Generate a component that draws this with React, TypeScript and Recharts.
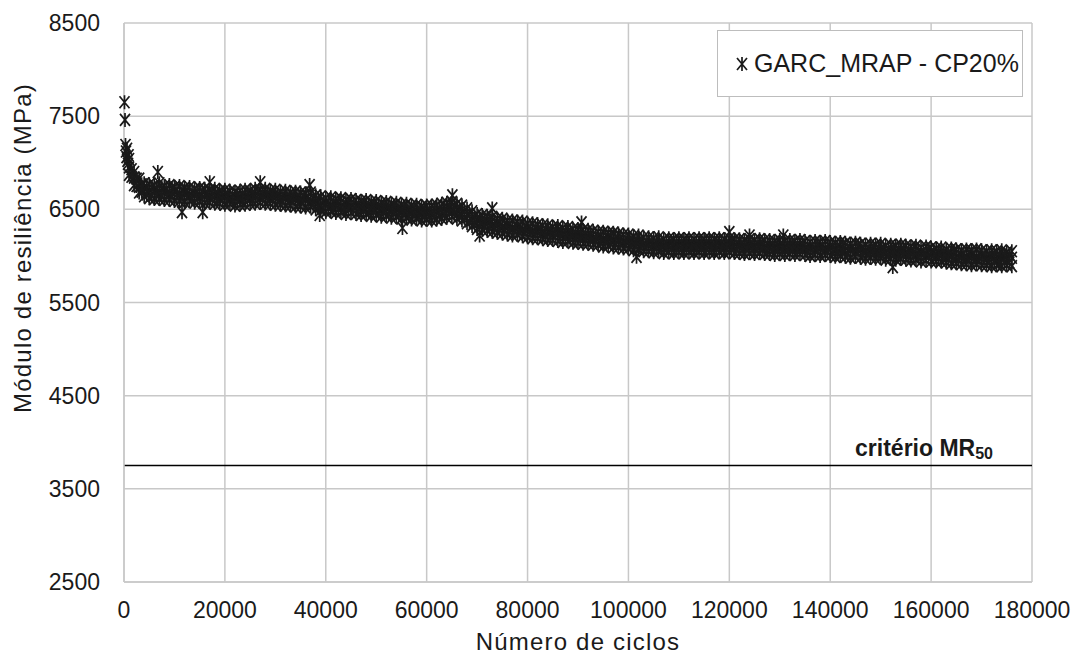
import React from "react";
import {
  ScatterChart,
  Scatter,
  XAxis,
  YAxis,
  CartesianGrid,
  ReferenceLine,
  Label,
} from "recharts";

const FONT = "'Liberation Sans', Arial, sans-serif";
const INK = "#1a1a1a";
const GRID = "#c8c8c8";

const xTicks = [0, 20000, 40000, 60000, 80000, 100000, 120000, 140000, 160000, 180000];
const yTicks = [2500, 3500, 4500, 5500, 6500, 7500, 8500];
const mr50 = 3750;
const seriesName = "GARC_MRAP - CP20%";

// first readings, before the band settles
const firstCycles = [100, 200, 300, 400, 500, 600, 700, 800, 900];
const firstValues = [7650, 7460, 7190, 7120, 7060, 7150, 7020, 6990, 7080];

// cycles sampled along the band (every 1000)
const bandCycles = [
  1000, 2000, 3000, 4000, 5000, 6000, 7000, 8000, 9000, 10000,
  11000, 12000, 13000, 14000, 15000, 16000, 17000, 18000, 19000, 20000,
  21000, 22000, 23000, 24000, 25000, 26000, 27000, 28000, 29000, 30000,
  31000, 32000, 33000, 34000, 35000, 36000, 37000, 38000, 39000, 40000,
  41000, 42000, 43000, 44000, 45000, 46000, 47000, 48000, 49000, 50000,
  51000, 52000, 53000, 54000, 55000, 56000, 57000, 58000, 59000, 60000,
  61000, 62000, 63000, 64000, 65000, 66000, 67000, 68000, 69000, 70000,
  71000, 72000, 73000, 74000, 75000, 76000, 77000, 78000, 79000, 80000,
  81000, 82000, 83000, 84000, 85000, 86000, 87000, 88000, 89000, 90000,
  91000, 92000, 93000, 94000, 95000, 96000, 97000, 98000, 99000, 100000,
  101000, 102000, 103000, 104000, 105000, 106000, 107000, 108000, 109000, 110000,
  111000, 112000, 113000, 114000, 115000, 116000, 117000, 118000, 119000, 120000,
  121000, 122000, 123000, 124000, 125000, 126000, 127000, 128000, 129000, 130000,
  131000, 132000, 133000, 134000, 135000, 136000, 137000, 138000, 139000, 140000,
  141000, 142000, 143000, 144000, 145000, 146000, 147000, 148000, 149000, 150000,
  151000, 152000, 153000, 154000, 155000, 156000, 157000, 158000, 159000, 160000,
  161000, 162000, 163000, 164000, 165000, 166000, 167000, 168000, 169000, 170000,
  171000, 172000, 173000, 174000, 175000, 176000,
];

// upper edge of the band
const bandUpper = [
  7040, 6900, 6830, 6780, 6770, 6760, 6780, 6750, 6760, 6740,
  6750, 6730, 6740, 6720, 6730, 6720, 6710, 6720, 6700, 6710,
  6700, 6690, 6700, 6710, 6700, 6720, 6710, 6720, 6700, 6710,
  6690, 6700, 6680, 6690, 6680, 6670, 6680, 6650, 6640, 6620,
  6630, 6610, 6620, 6600, 6610, 6600, 6590, 6600, 6580, 6590,
  6570, 6580, 6560, 6570, 6550, 6560, 6540, 6550, 6530, 6540,
  6540, 6550, 6560, 6570, 6580, 6560, 6540, 6510, 6480, 6450,
  6440, 6430, 6420, 6400, 6400, 6380, 6380, 6370, 6370, 6350,
  6350, 6340, 6330, 6330, 6310, 6320, 6300, 6310, 6290, 6290,
  6280, 6280, 6270, 6260, 6260, 6250, 6250, 6240, 6230, 6230,
  6210, 6220, 6200, 6200, 6190, 6200, 6180, 6190, 6180, 6190,
  6180, 6190, 6180, 6190, 6180, 6190, 6180, 6190, 6180, 6190,
  6180, 6180, 6170, 6180, 6170, 6180, 6170, 6170, 6160, 6170,
  6160, 6170, 6160, 6170, 6160, 6150, 6160, 6150, 6160, 6150,
  6140, 6150, 6140, 6130, 6140, 6130, 6120, 6130, 6120, 6130,
  6110, 6120, 6110, 6120, 6110, 6100, 6110, 6090, 6100, 6090,
  6080, 6090, 6070, 6080, 6070, 6060, 6070, 6060, 6070, 6060,
  6050, 6060, 6050, 6060, 6040, 6050,
];

// middle of the band
const bandMiddle = [
  6950, 6840, 6740, 6720, 6680, 6700, 6680, 6690, 6670, 6690,
  6660, 6670, 6650, 6660, 6640, 6660, 6630, 6650, 6620, 6640,
  6620, 6630, 6610, 6640, 6620, 6650, 6630, 6650, 6620, 6640,
  6610, 6630, 6600, 6620, 6590, 6610, 6590, 6590, 6550, 6560,
  6540, 6550, 6530, 6550, 6520, 6540, 6510, 6530, 6500, 6520,
  6490, 6510, 6480, 6500, 6470, 6490, 6460, 6480, 6450, 6470,
  6450, 6480, 6470, 6500, 6490, 6490, 6450, 6440, 6390, 6380,
  6350, 6360, 6330, 6340, 6310, 6320, 6290, 6310, 6280, 6290,
  6260, 6270, 6250, 6260, 6230, 6250, 6220, 6240, 6210, 6220,
  6200, 6210, 6190, 6200, 6170, 6190, 6160, 6170, 6150, 6160,
  6130, 6150, 6120, 6130, 6110, 6130, 6100, 6120, 6100, 6120,
  6100, 6120, 6100, 6120, 6100, 6120, 6100, 6120, 6100, 6120,
  6100, 6110, 6090, 6110, 6090, 6110, 6090, 6100, 6080, 6100,
  6080, 6100, 6080, 6100, 6080, 6090, 6070, 6090, 6070, 6090,
  6060, 6080, 6060, 6070, 6050, 6070, 6040, 6060, 6040, 6060,
  6030, 6050, 6030, 6050, 6030, 6040, 6020, 6030, 6010, 6030,
  6000, 6020, 5990, 6010, 5990, 6000, 5980, 6000, 5980, 6000,
  5970, 5990, 5970, 5990, 5960, 5980,
];

// lower edge of the band
const bandLower = [
  6870, 6760, 6680, 6640, 6620, 6610, 6610, 6600, 6600, 6590,
  6590, 6580, 6590, 6570, 6580, 6570, 6570, 6560, 6560, 6550,
  6560, 6540, 6550, 6550, 6560, 6560, 6570, 6560, 6560, 6550,
  6550, 6540, 6540, 6530, 6530, 6520, 6530, 6500, 6490, 6470,
  6480, 6460, 6470, 6450, 6460, 6450, 6440, 6450, 6430, 6440,
  6420, 6430, 6410, 6420, 6400, 6410, 6390, 6400, 6380, 6390,
  6380, 6390, 6400, 6410, 6420, 6400, 6380, 6350, 6320, 6290,
  6280, 6270, 6260, 6250, 6240, 6230, 6220, 6230, 6210, 6200,
  6190, 6190, 6180, 6170, 6170, 6160, 6150, 6160, 6140, 6140,
  6130, 6130, 6120, 6120, 6100, 6110, 6090, 6090, 6080, 6080,
  6060, 6070, 6050, 6050, 6040, 6050, 6030, 6040, 6030, 6040,
  6030, 6040, 6030, 6040, 6030, 6040, 6030, 6040, 6030, 6040,
  6030, 6030, 6020, 6030, 6020, 6030, 6020, 6020, 6010, 6020,
  6010, 6020, 6010, 6020, 6010, 6000, 6010, 6000, 6010, 6000,
  5990, 6000, 5990, 5980, 5990, 5980, 5970, 5980, 5970, 5980,
  5960, 5970, 5960, 5970, 5960, 5950, 5960, 5940, 5950, 5940,
  5940, 5940, 5930, 5920, 5920, 5910, 5910, 5900, 5910, 5900,
  5900, 5890, 5900, 5890, 5900, 5890,
];

// readings between the 1000-cycle samples
const halfCycles = [
  1500, 2500, 3500, 4500, 5500, 6500, 7500, 8500, 9500, 10500,
  11500, 12500, 13500, 14500, 15500, 16500, 17500, 18500, 19500, 20500,
  21500, 22500, 23500, 24500, 25500, 26500, 27500, 28500, 29500, 30500,
  31500, 32500, 33500, 34500, 35500, 36500, 37500, 38500, 39500, 40500,
  41500, 42500, 43500, 44500, 45500, 46500, 47500, 48500, 49500, 50500,
  51500, 52500, 53500, 54500, 55500, 56500, 57500, 58500, 59500, 60500,
  61500, 62500, 63500, 64500, 65500, 66500, 67500, 68500, 69500, 70500,
  71500, 72500, 73500, 74500, 75500, 76500, 77500, 78500, 79500, 80500,
  81500, 82500, 83500, 84500, 85500, 86500, 87500, 88500, 89500, 90500,
  91500, 92500, 93500, 94500, 95500, 96500, 97500, 98500, 99500, 100500,
  101500, 102500, 103500, 104500, 105500, 106500, 107500, 108500, 109500, 110500,
  111500, 112500, 113500, 114500, 115500, 116500, 117500, 118500, 119500, 120500,
  121500, 122500, 123500, 124500, 125500, 126500, 127500, 128500, 129500, 130500,
  131500, 132500, 133500, 134500, 135500, 136500, 137500, 138500, 139500, 140500,
  141500, 142500, 143500, 144500, 145500, 146500, 147500, 148500, 149500, 150500,
  151500, 152500, 153500, 154500, 155500, 156500, 157500, 158500, 159500, 160500,
  161500, 162500, 163500, 164500, 165500, 166500, 167500, 168500, 169500, 170500,
  171500, 172500, 173500, 174500, 175500,
];

const halfHigh = [
  6930, 6830, 6770, 6740, 6740, 6720, 6730, 6720, 6730, 6710,
  6710, 6710, 6690, 6700, 6700, 6680, 6690, 6670, 6680, 6670,
  6660, 6670, 6670, 6680, 6670, 6690, 6680, 6670, 6680, 6660,
  6660, 6650, 6660, 6640, 6650, 6640, 6620, 6610, 6590, 6590,
  6580, 6590, 6570, 6580, 6570, 6560, 6570, 6550, 6560, 6540,
  6550, 6530, 6540, 6520, 6530, 6510, 6520, 6500, 6510, 6500,
  6510, 6510, 6530, 6540, 6530, 6510, 6480, 6450, 6420, 6400,
  6390, 6380, 6370, 6360, 6350, 6340, 6340, 6330, 6320, 6310,
  6300, 6300, 6290, 6280, 6280, 6270, 6270, 6260, 6250, 6250,
  6240, 6240, 6230, 6220, 6220, 6210, 6200, 6200, 6190, 6180,
  6180, 6170, 6160, 6160, 6160, 6150, 6150, 6160, 6150, 6150,
  6160, 6150, 6150, 6160, 6150, 6150, 6160, 6150, 6150, 6160,
  6140, 6140, 6150, 6140, 6140, 6150, 6130, 6130, 6140, 6130,
  6130, 6140, 6130, 6130, 6120, 6120, 6130, 6120, 6120, 6110,
  6110, 6120, 6100, 6100, 6110, 6090, 6090, 6100, 6090, 6080,
  6080, 6090, 6080, 6080, 6070, 6070, 6060, 6060, 6070, 6050,
  6050, 6040, 6040, 6050, 6030, 6030, 6040, 6030, 6030, 6020,
  6020, 6030, 6010, 6010, 6020,
];

const halfLow = [
  6850, 6750, 6690, 6660, 6650, 6650, 6640, 6640, 6640, 6630,
  6620, 6630, 6610, 6620, 6610, 6600, 6610, 6590, 6600, 6590,
  6580, 6590, 6580, 6600, 6590, 6600, 6610, 6590, 6600, 6580,
  6580, 6570, 6580, 6560, 6570, 6560, 6550, 6530, 6510, 6510,
  6500, 6500, 6490, 6500, 6490, 6480, 6490, 6470, 6480, 6460,
  6470, 6450, 6460, 6440, 6450, 6430, 6440, 6420, 6430, 6420,
  6420, 6440, 6450, 6460, 6450, 6430, 6410, 6370, 6350, 6320,
  6310, 6300, 6290, 6280, 6270, 6260, 6260, 6250, 6240, 6230,
  6220, 6220, 6210, 6200, 6200, 6190, 6190, 6180, 6170, 6170,
  6160, 6160, 6150, 6140, 6140, 6130, 6120, 6120, 6110, 6100,
  6100, 6090, 6080, 6080, 6080, 6070, 6070, 6080, 6070, 6070,
  6080, 6070, 6070, 6080, 6070, 6070, 6080, 6070, 6070, 6080,
  6060, 6060, 6070, 6060, 6060, 6070, 6050, 6050, 6060, 6050,
  6050, 6060, 6050, 6050, 6040, 6040, 6050, 6040, 6040, 6030,
  6030, 6040, 6020, 6020, 6030, 6010, 6010, 6020, 6010, 6000,
  6000, 6010, 6000, 6000, 5990, 5990, 5980, 5980, 5990, 5970,
  5970, 5960, 5960, 5950, 5950, 5940, 5950, 5940, 5940, 5930,
  5930, 5940, 5920, 5930, 5930,
];

// stray readings sticking out of the band
const strayCycles = [6700, 11500, 15600, 17000, 27000, 36800, 38800, 55200, 65100, 70500, 73000, 90700, 101600, 120000, 124000, 130700, 152400];
const strayValues = [6900, 6470, 6470, 6790, 6790, 6760, 6440, 6300, 6650, 6220, 6510, 6360, 5990, 6255, 6220, 6220, 5880];

const points = [
  ...firstCycles.map((c, i) => ({ c, mr: firstValues[i] })),
  ...bandCycles.map((c, i) => ({ c, mr: bandUpper[i] })),
  ...bandCycles.map((c, i) => ({ c, mr: bandMiddle[i] })),
  ...bandCycles.map((c, i) => ({ c, mr: bandLower[i] })),
  ...halfCycles.map((c, i) => ({ c, mr: halfHigh[i] })),
  ...halfCycles.map((c, i) => ({ c, mr: halfLow[i] })),
  ...strayCycles.map((c, i) => ({ c, mr: strayValues[i] })),
];

function Star({ cx, cy }: { cx?: number; cy?: number }) {
  if (cx == null || cy == null) return null;
  return (
    <path
      d={`M${cx - 5},${cy - 6}L${cx + 5},${cy + 6}M${cx + 5},${cy - 6}L${cx - 5},${cy + 6}M${cx},${cy - 7}L${cx},${cy + 7}`}
      stroke={INK}
      strokeWidth={1.7}
      fill="none"
    />
  );
}

function LegendBox() {
  return (
    <div
      style={{
        position: "absolute",
        left: 717,
        top: 30,
        width: 304,
        height: 65,
        border: "1px solid #bdbdbd",
        background: "#fff",
        display: "flex",
        alignItems: "center",
        fontFamily: FONT,
        fontSize: 25,
        color: INK,
        boxSizing: "content-box",
      }}
    >
      <svg width={36} height={20}>
        <Star cx={24} cy={10} />
      </svg>
      <span>{seriesName}</span>
    </div>
  );
}

export default function App() {
  return (
    <div style={{ position: "absolute", left: 0, top: 0, width: 1083, height: 664, background: "#fff" }}>
      <ScatterChart
        width={1083}
        height={664}
        margin={{ top: 23, right: 51, left: 0, bottom: 0 }}
      >
        <CartesianGrid stroke={GRID} strokeWidth={1.5} />
        <XAxis
          type="number"
          dataKey="c"
          domain={[0, 180000]}
          ticks={xTicks}
          interval={0}
          height={82}
          axisLine={{ stroke: GRID, strokeWidth: 1.5 }}
          tickLine={false}
          tickSize={0}
          tickMargin={20}
          tick={{ fontSize: 23, fill: INK, fontFamily: FONT }}
        >
          <Label
            content={({ viewBox }: any) => (
              <text
                x={viewBox.x + viewBox.width / 2}
                y={650}
                textAnchor="middle"
                fontSize={24}
                letterSpacing={1.2}
                fill={INK}
                fontFamily={FONT}
              >
                Número de ciclos
              </text>
            )}
          />
        </XAxis>
        <YAxis
          type="number"
          dataKey="mr"
          domain={[2500, 8500]}
          ticks={yTicks}
          interval={0}
          width={124}
          axisLine={{ stroke: GRID, strokeWidth: 1.5 }}
          tickLine={false}
          tickSize={0}
          tickMargin={24}
          tick={{ fontSize: 23, fill: INK, fontFamily: FONT }}
        >
          <Label
            content={() => (
              <text
                x={22}
                y={248}
                transform="rotate(-90 22 248)"
                textAnchor="middle"
                dominantBaseline="central"
                fontSize={24}
                letterSpacing={1.2}
                fill={INK}
                fontFamily={FONT}
              >
                Módulo de resiliência (MPa)
              </text>
            )}
          />
        </YAxis>
        <ReferenceLine
          y={mr50}
          stroke="#000"
          strokeWidth={1.5}
          label={({ viewBox }: any) => (
            <text
              x={viewBox.x + viewBox.width - 39}
              y={viewBox.y - 10}
              textAnchor="end"
              fontFamily={FONT}
              fontWeight="bold"
              fontSize={23}
              fill={INK}
            >
              critério MR
              <tspan fontSize={16} dy={3}>50</tspan>
            </text>
          )}
        />
        <Scatter
          name={seriesName}
          data={points}
          shape={(p: any) => <Star cx={p.cx} cy={p.cy} />}
          isAnimationActive={false}
        />
      </ScatterChart>
      <LegendBox />
    </div>
  );
}
